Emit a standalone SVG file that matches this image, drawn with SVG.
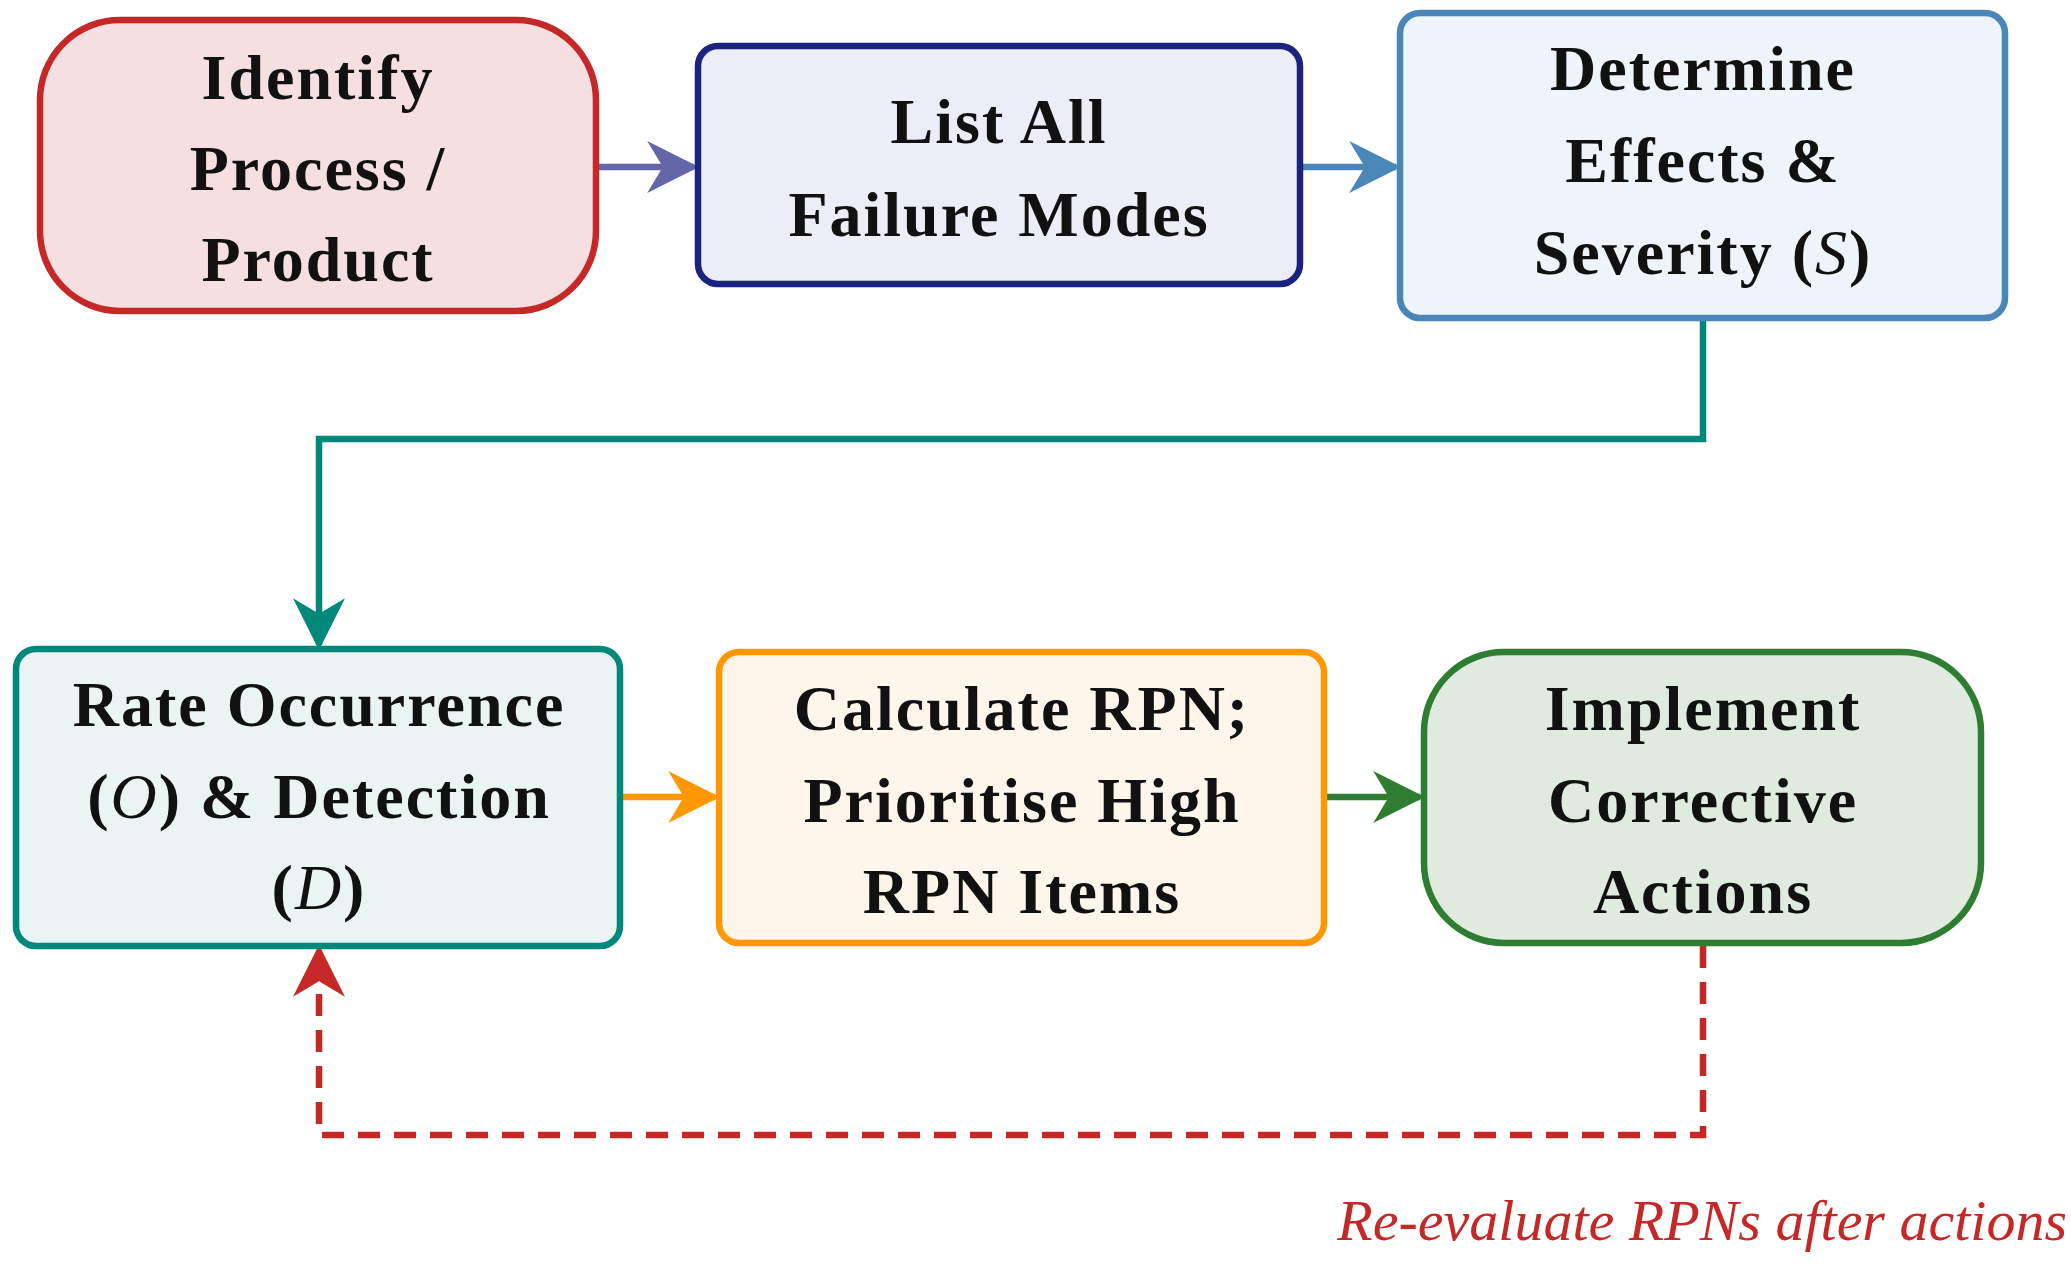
<svg xmlns="http://www.w3.org/2000/svg" width="2071" height="1271" viewBox="0 0 2071 1271">
<style>
.t{font-family:"Liberation Serif","DejaVu Serif",serif;font-weight:bold;font-size:64px;letter-spacing:2px;fill:#111;text-anchor:middle}
.i{font-style:italic;font-weight:normal}
.box{stroke-width:6.5}
.c{fill:none;stroke-width:6.5}
</style>
<defs>
<marker id="m1" viewBox="0 0 20 20" refX="18" refY="10" markerWidth="8" markerHeight="8" markerUnits="strokeWidth" orient="auto"><path d="M0,0 L20,10 L0,20 L6,10 Z" fill="#6366a8"/></marker>
<marker id="m2" viewBox="0 0 20 20" refX="18" refY="10" markerWidth="8" markerHeight="8" markerUnits="strokeWidth" orient="auto"><path d="M0,0 L20,10 L0,20 L6,10 Z" fill="#4a86b8"/></marker>
<marker id="m3" viewBox="0 0 20 20" refX="18" refY="10" markerWidth="8" markerHeight="8" markerUnits="strokeWidth" orient="auto"><path d="M0,0 L20,10 L0,20 L6,10 Z" fill="#00897b"/></marker>
<marker id="m4" viewBox="0 0 20 20" refX="18" refY="10" markerWidth="8" markerHeight="8" markerUnits="strokeWidth" orient="auto"><path d="M0,0 L20,10 L0,20 L6,10 Z" fill="#ff9800"/></marker>
<marker id="m5" viewBox="0 0 20 20" refX="18" refY="10" markerWidth="8" markerHeight="8" markerUnits="strokeWidth" orient="auto"><path d="M0,0 L20,10 L0,20 L6,10 Z" fill="#2e7d32"/></marker>
<marker id="m6" viewBox="0 0 20 20" refX="18" refY="10" markerWidth="8" markerHeight="8" markerUnits="strokeWidth" orient="auto"><path d="M0,0 L20,10 L0,20 L6,10 Z" fill="#c62828"/></marker>
</defs>
<rect width="2071" height="1271" fill="#fff"/>
<g id="connectors">
<path class="c" d="M599,167 H694" stroke="#6366a8" marker-end="url(#m1)"/>
<path class="c" d="M1303,167 H1396" stroke="#4a86b8" marker-end="url(#m2)"/>
<path class="c" d="M1703,321 V439 H319 V645" stroke="#00897b" marker-end="url(#m3)"/>
<path class="c" d="M623,797 H715" stroke="#ff9800" marker-end="url(#m4)"/>
<path class="c" d="M1327,797 H1420" stroke="#2e7d32" marker-end="url(#m5)"/>
<path class="c" d="M1703,946 V1135 H319 V950" stroke="#c62828" stroke-dasharray="22,14" marker-end="url(#m6)"/>
<text x="2067" y="1240" class="t i" style="fill:#c62828;font-size:58px;letter-spacing:0;text-anchor:end">Re-evaluate RPNs after actions</text>
</g>
<g id="n1"><rect class="box" x="40" y="20" width="556" height="291" rx="80" fill="#f5dfe0" stroke="#c62828"/>
<text class="t" x="318" y="99">Identify</text><text class="t" x="318" y="190">Process /</text><text class="t" x="318" y="281">Product</text></g>
<g id="n2"><rect class="box" x="698" y="46" width="602" height="238" rx="20" fill="#ecedf6" stroke="#1a237e"/>
<text class="t" x="999" y="143">List All</text><text class="t" x="999" y="236">Failure Modes</text></g>
<g id="n3"><rect class="box" x="1400" y="13" width="605" height="305" rx="20" fill="#eef4f9" stroke="#4a86b8"/>
<text class="t" x="1703" y="90">Determine</text><text class="t" x="1703" y="182">Effects &amp;</text><text class="t" x="1703" y="274">Severity (<tspan class="i">S</tspan>)</text></g>
<g id="n4"><rect class="box" x="16" y="649" width="604" height="297" rx="20" fill="#eaf4f2" stroke="#00897b"/>
<text class="t" x="319" y="726">Rate Occurrence</text><text class="t" x="319" y="818">(<tspan class="i">O</tspan>) &amp; Detection</text><text class="t" x="319" y="909">(<tspan class="i">D</tspan>)</text></g>
<g id="n5"><rect class="box" x="719" y="652" width="605" height="291" rx="20" fill="#fff6eb" stroke="#ff9800"/>
<text class="t" x="1022" y="730">Calculate RPN;</text><text class="t" x="1022" y="822">Prioritise High</text><text class="t" x="1022" y="913">RPN Items</text></g>
<g id="n6"><rect class="box" x="1424" y="652" width="557" height="291" rx="80" fill="#e0ebdf" stroke="#2e7d32"/>
<text class="t" x="1703" y="730">Implement</text><text class="t" x="1703" y="822">Corrective</text><text class="t" x="1703" y="913">Actions</text></g>
</svg>
